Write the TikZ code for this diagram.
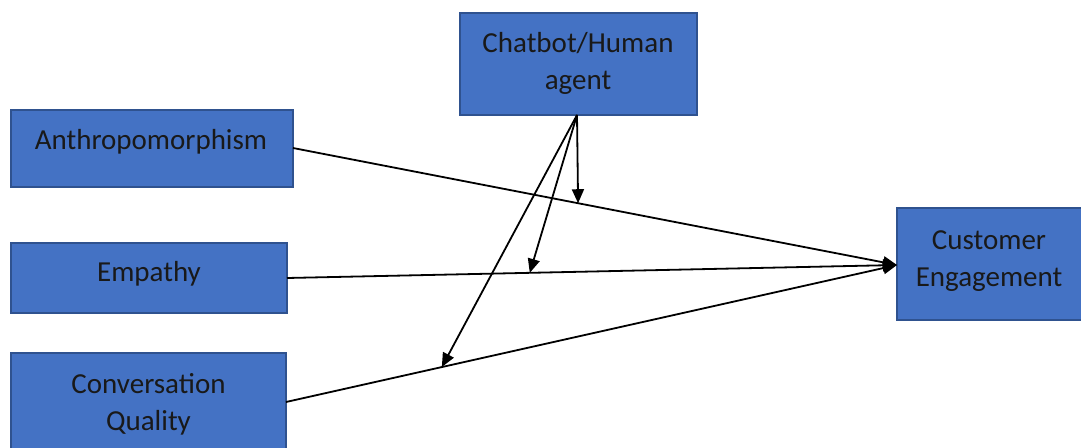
\documentclass[tikz,border=0pt]{standalone}
\usepackage{fontspec}
\setmainfont{Carlito}
\usetikzlibrary{arrows.meta,calc}
\definecolor{boxfill}{HTML}{4472C4}
\definecolor{boxline}{HTML}{2F528F}
\tikzset{
  box/.style={draw=boxline, fill=boxfill, line width=1.2pt, inner sep=0pt, align=center,
    font=\fontsize{29}{36}\selectfont, text=black!90},
  lbl/.style={font=\fontsize{29}{37}\selectfont, text=black!90, align=center},
  conn/.style={line width=1.8pt, draw=black, -{Triangle[length=14pt,width=12pt]}}
}
\begin{document}
\begin{tikzpicture}[x=1pt,y=-1pt]
\useasboundingbox (0,0) rectangle (1081,447);
\begin{scope}
\clip (0,0) rectangle (1081,447);
\node[box, minimum width=237pt, minimum height=102pt] (cb) at (578.5,64) {};
\node[lbl] (cbt) at (578,63) {Chatbot/Human\\agent};
\node[box, minimum width=282pt, minimum height=77pt] (an) at (152,148.5) {};
\node[lbl] (ant) at (151,142) {Anthropomorphism};
\node[box, minimum width=276pt, minimum height=70pt] (em) at (149,278) {};
\node[lbl] (emt) at (149,274) {Empathy};
\node[box, minimum width=275pt, minimum height=110pt] (cq) at (148.5,408) {};
\node[lbl] (cqt) at (148.5,404) {Conversation\\Quality};
\node[box, minimum width=190pt, minimum height=112pt] (ce) at (992,264) {};
\node[lbl] (cet) at (989,261) {Customer\\Engagement};
\end{scope}
\coordinate (ceW) at (897,265);
\coordinate (anE) at (293,148);
\coordinate (emE) at (287,278);
\coordinate (cqE) at (286,402);
\coordinate (cbS) at (577,115);
\draw[conn] (anE) -- (ceW);
\draw[conn] (emE) -- (ceW);
\draw[conn] (cqE) -- (ceW);
\coordinate (m1) at ($(anE)!0.472!(ceW)$);
\coordinate (m2) at ($(emE)!0.398!(ceW)$);
\coordinate (m3) at ($(cqE)!0.255!(ceW)$);
\draw[conn] (cbS) -- (m1);
\draw[conn] (cbS) -- (m2);
\draw[conn] (cbS) -- (m3);
\end{tikzpicture}
\end{document}
